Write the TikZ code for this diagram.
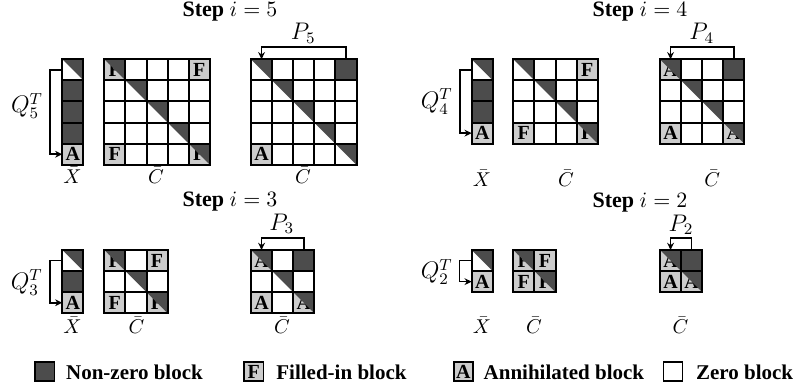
\documentclass[tikz,border=0pt]{standalone}
\usepackage[no-math]{fontspec}
\setmainfont{Liberation Serif}
\usetikzlibrary{calc,arrows.meta}
\definecolor{darkc}{gray}{0.30}
\definecolor{lightc}{gray}{0.80}
\def\cs{21.1}
\tikzset{
  gridl/.style={line width=1pt, line cap=rect},
  arr/.style={line width=0.8pt, -{Stealth[length=3.6pt,width=3.4pt]}},
  cellletter/.style={inner sep=0pt, font=\bfseries},
  lab/.style={inner sep=0pt},
  pq/.style={inner sep=0pt, font=\fontsize{11.5}{14}\selectfont},
  ttl/.style={inner sep=0pt, font=\fontsize{11}{13}\selectfont},
  legbox/.style={draw=black, line width=0.8pt, minimum size=9.6pt, inner sep=0pt, font=\bfseries},
  legtext/.style={anchor=base west, inner sep=0pt, font=\fontsize{10.5}{12.6}\selectfont\bfseries}
}
\newcommand\cD[2]{\fill[darkc] ({#1*\cs},{#2*\cs}) rectangle ++(\cs,\cs);}
\newcommand\cT[2]{\fill[darkc] ({#1*\cs},{#2*\cs}) -- ++(\cs,0) -- ++(0,\cs) -- cycle;}
\newcommand\cL[4]{\fill[lightc] ({#1*\cs},{#2*\cs}) rectangle ++(\cs,\cs);
  \node[cellletter] (#4) at ({(#1+0.5)*\cs},{(#2+0.5)*\cs}) {#3};}
\newcommand\mgrid[2]{%
  \foreach \i in {0,...,#1} {\draw[gridl] ({\i*\cs},0) -- ({\i*\cs},{#2*\cs});}
  \foreach \j in {0,...,#2} {\draw[gridl] (0,{\j*\cs}) -- ({#1*\cs},{\j*\cs});}}
\begin{document}
\begin{tikzpicture}[x=0.5pt,y=-0.5pt]
\useasboundingbox (0,0) rectangle (794,390);
% ---------------- matrix origins
\coordinate (x5) at (62.3,59.3);  \coordinate (c5a) at (104.3,59.3); \coordinate (c5b) at (251,59.3);
\coordinate (x4) at (471.7,59.3); \coordinate (c4a) at (513.3,59.3); \coordinate (c4b) at (660,59.3);
\coordinate (x3) at (62.3,250);   \coordinate (c3a) at (104.3,250);  \coordinate (c3b) at (251,250);
\coordinate (x2) at (471.7,250);  \coordinate (c2a) at (513.3,250);  \coordinate (c2b) at (660,250);
% ---------------- titles
\node[ttl] (t5) at (230,12) {\textbf{Step} $i=5$};
\node[ttl] (t4) at (640,12) {\textbf{Step} $i=4$};
\node[ttl] (t3) at (230,202) {\textbf{Step} $i=3$};
\node[ttl] (t2) at (640,203) {\textbf{Step} $i=2$};
% ================= Step 5
\begin{scope}[shift={(x5)}]
 \cT{0}{0}\cD{0}{1}\cD{0}{2}\cD{0}{3}\cL{0}{4}{A}{x5A}
 \mgrid{1}{5}
\end{scope}
\begin{scope}[shift={(c5a)}]
 \cL{0}{0}{F}{c5aF1}\cT{0}{0}\cL{4}{0}{F}{c5aF2}
 \cT{1}{1}\cT{2}{2}\cT{3}{3}
 \cL{0}{4}{F}{c5aF3}\cL{4}{4}{F}{c5aF4}\cT{4}{4}
 \mgrid{5}{5}
\end{scope}
\begin{scope}[shift={(c5b)}]
 \cT{0}{0}\cD{4}{0}\cT{1}{1}\cT{2}{2}\cT{3}{3}\cT{4}{4}
 \cL{0}{4}{A}{c5bA}
 \mgrid{5}{5}
\end{scope}
\coordinate (q5s) at ($(x5)+(0,{0.5*\cs})$);
\coordinate (q5e) at ($(x5)+(0,{4.5*\cs})$);
\draw[arr] (q5s) -- ++(-12.3,0) |- (q5e);
\node[pq] (q5) at (27,106) {$Q_5^T$};
\coordinate (p5s) at ($(c5b)+({4.5*\cs},0)$);
\coordinate (p5e) at ($(c5b)+({0.5*\cs},0)$);
\draw[arr] (p5s) -- ++(0,-12) -| (p5e);
\node[pq] (p5) at (303.3,33.3) {$P_5$};
\node[lab] (lx5) at (72.5,175.5) {$\bar{X}$};
\node[lab] (lc5a) at (156,175.5) {$\bar{C}$};
\node[lab] (lc5b) at (303,175.5) {$\bar{C}$};
% ================= Step 4
\begin{scope}[shift={(x4)}]
 \cT{0}{0}\cD{0}{1}\cD{0}{2}\cL{0}{3}{A}{x4A}
 \mgrid{1}{4}
\end{scope}
\begin{scope}[shift={(c4a)}]
 \cT{0}{0}\cL{3}{0}{F}{c4aF1}
 \cT{1}{1}\cT{2}{2}
 \cL{0}{3}{F}{c4aF2}\cL{3}{3}{F}{c4aF3}\cT{3}{3}
 \mgrid{4}{4}
\end{scope}
\begin{scope}[shift={(c4b)}]
 \cL{0}{0}{A}{c4bA1}\cT{0}{0}\cD{3}{0}\cT{1}{1}\cT{2}{2}
 \cL{0}{3}{A}{c4bA2}\cL{3}{3}{A}{c4bA3}\cT{3}{3}
 \mgrid{4}{4}
\end{scope}
\coordinate (q4s) at ($(x4)+(0,{0.5*\cs})$);
\coordinate (q4e) at ($(x4)+(0,{3.5*\cs})$);
\draw[arr] (q4s) -- ++(-12,0) |- (q4e);
\node[pq] (q4) at (436.7,101.7) {$Q_4^T$};
\coordinate (p4s) at ($(c4b)+({3.5*\cs},0)$);
\coordinate (p4e) at ($(c4b)+({0.5*\cs},0)$);
\draw[arr] (p4s) -- ++(0,-12) -| (p4e);
\node[pq] (p4) at (701.7,33.3) {$P_4$};
\node[lab] (lx4) at (482,178) {$\bar{X}$};
\node[lab] (lc4a) at (566,178) {$\bar{C}$};
\node[lab] (lc4b) at (712.3,178) {$\bar{C}$};
% ================= Step 3
\begin{scope}[shift={(x3)}]
 \cT{0}{0}\cD{0}{1}\cL{0}{2}{A}{x3A}
 \mgrid{1}{3}
\end{scope}
\begin{scope}[shift={(c3a)}]
 \cL{0}{0}{F}{c3aF1}\cT{0}{0}\cL{2}{0}{F}{c3aF2}
 \cT{1}{1}
 \cL{0}{2}{F}{c3aF3}\cL{2}{2}{F}{c3aF4}\cT{2}{2}
 \mgrid{3}{3}
\end{scope}
\begin{scope}[shift={(c3b)}]
 \cL{0}{0}{A}{c3bA1}\cT{0}{0}\cD{2}{0}\cT{1}{1}
 \cL{0}{2}{A}{c3bA2}\cL{2}{2}{A}{c3bA3}\cT{2}{2}
 \mgrid{3}{3}
\end{scope}
\coordinate (q3s) at ($(x3)+(0,{0.5*\cs})$);
\coordinate (q3e) at ($(x3)+(0,{2.5*\cs})$);
\draw[arr] (q3s) -- ++(-12.3,0) |- (q3e);
\node[pq] (q3) at (26.7,282.5) {$Q_3^T$};
\coordinate (p3s) at ($(c3b)+({2.5*\cs},0)$);
\coordinate (p3e) at ($(c3b)+({0.5*\cs},0)$);
\draw[arr] (p3s) -- ++(0,-12) -| (p3e);
\node[pq] (p3) at (281.7,224) {$P_3$};
\node[lab] (lx3) at (72.5,325) {$\bar{X}$};
\node[lab] (lc3a) at (136.5,325) {$\bar{C}$};
\node[lab] (lc3b) at (282,325) {$\bar{C}$};
% ================= Step 2
\begin{scope}[shift={(x2)}]
 \cT{0}{0}\cL{0}{1}{A}{x2A}
 \mgrid{1}{2}
\end{scope}
\begin{scope}[shift={(c2a)}]
 \cL{0}{0}{F}{c2aF1}\cT{0}{0}\cL{1}{0}{F}{c2aF2}
 \cL{0}{1}{F}{c2aF3}\cL{1}{1}{F}{c2aF4}\cT{1}{1}
 \mgrid{2}{2}
\end{scope}
\begin{scope}[shift={(c2b)}]
 \cL{0}{0}{A}{c2bA1}\cT{0}{0}\cD{1}{0}
 \cL{0}{1}{A}{c2bA2}\cL{1}{1}{A}{c2bA3}\cT{1}{1}
 \mgrid{2}{2}
\end{scope}
\coordinate (q2s) at ($(x2)+(0,{0.5*\cs})$);
\coordinate (q2e) at ($(x2)+(0,{1.5*\cs})$);
\draw[arr] (q2s) -- ++(-12.3,0) |- (q2e);
\node[pq] (q2) at (436.7,272) {$Q_2^T$};
\coordinate (p2s) at ($(c2b)+({1.5*\cs},0)$);
\coordinate (p2e) at ($(c2b)+({0.5*\cs},0)$);
\draw[arr] (p2s) -- ++(0,-12) -| (p2e);
\node[pq] (p2) at (681,225) {$P_2$};
\node[lab] (lx2) at (482,325) {$\bar{X}$};
\node[lab] (lc2a) at (534,325) {$\bar{C}$};
\node[lab] (lc2b) at (680.5,325) {$\bar{C}$};
% ================= Legend
\node[legbox, fill=darkc] (lg1) at (44.7,371.7) {};
\node[legtext] (lg1t) at (65.7,379.5) {Non-zero block};
\node[legbox, fill=lightc] (lg2) at (253.8,371.7) {F};
\node[legtext] (lg2t) at (276,379.5) {Filled-in block};
\node[legbox, fill=lightc] (lg3) at (463.3,371.7) {A};
\node[legtext] (lg3t) at (483.3,379.5) {Annihilated block};
\node[legbox, fill=white] (lg4) at (673,371.7) {};
\node[legtext] (lg4t) at (695.7,379.5) {Zero block};
\end{tikzpicture}
\end{document}
